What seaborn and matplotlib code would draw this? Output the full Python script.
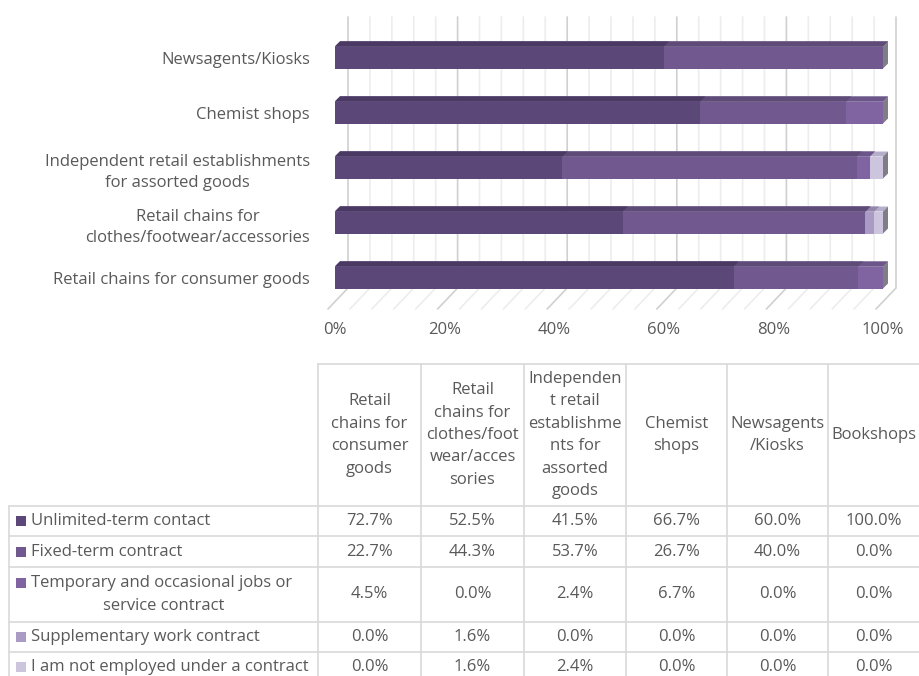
import numpy as np
import pandas as pd
import seaborn as sns
import matplotlib.pyplot as plt
from matplotlib.patches import Polygon, Rectangle

shops = ["Retail chains for consumer goods",
         "Retail chains for\nclothes/footwear/accessories",
         "Independent retail establishments\nfor assorted goods",
         "Chemist shops",
         "Newsagents/Kiosks",
         "Bookshops"]
table_headers = ["Retail\nchains for\nconsumer\ngoods",
                 "Retail\nchains for\nclothes/foot\nwear/acces\nsories",
                 "Independen\nt retail\nestablishme\nnts for\nassorted\ngoods",
                 "Chemist\nshops",
                 "Newsagents\n/Kiosks",
                 "Bookshops"]
row_labels = ["Unlimited-term contact",
              "Fixed-term contract",
              "Temporary and occasional jobs or\nservice contract",
              "Supplementary work contract",
              "I am not employed under a contract"]
unlimited = [72.7, 52.5, 41.5, 66.7, 60.0, 100.0]
fixed = [22.7, 44.3, 53.7, 26.7, 40.0, 0.0]
temporary = [4.5, 0.0, 2.4, 6.7, 0.0, 0.0]
supplementary = [0.0, 1.6, 0.0, 0.0, 0.0, 0.0]
not_employed = [0.0, 1.6, 2.4, 0.0, 0.0, 0.0]
x_ticks = [0, 20, 40, 60, 80, 100]

series = [unlimited, fixed, temporary, supplementary, not_employed]
front_colors = ["#5b4778", "#71598f", "#8064a2", "#a99bc3", "#cdc5de"]
top_colors = ["#4a3a63", "#5e4b78", "#6c5689", "#9487ad", "#b7aecb"]
end_color = "#7f7d87"
txt = "#595959"
line_c = "#d9d9d9"
fs = 12

sns.set_theme(style="white")
plt.rcParams['font.family'] = ['Open Sans', 'DejaVu Sans']

W, H = 920, 676
fig = plt.figure(figsize=(W / 100, H / 100), dpi=100)


def fbox(l, t, r, b):
    return [l / W, 1 - b / H, (r - l) / W, (b - t) / H]


ax = fig.add_axes(fbox(335, 10, 883, 312))

# 100% stacked bars: draw cumulative shares, longest first
bar_shops = shops[:5]
order = bar_shops[::-1]
vals = np.array(series)[:, :5]
pct = np.cumsum(vals, axis=0) / vals.sum(axis=0) * 100
df = pd.DataFrame(pct.T, columns=row_labels)
df["shop"] = bar_shops

for i in reversed(range(len(series))):
    sns.barplot(data=df, x=row_labels[i], y="shop", order=order,
                color=front_colors[i], width=0.4, saturation=1,
                errorbar=None, orient="h", ax=ax, zorder=3,
                edgecolor="none", linewidth=0)

ylim_top, ylim_bot = -0.864, 4.627
ax.set_xlim(0, 100)
ax.set_ylim(ylim_bot, ylim_top)

sx = ax.bbox.width / 100
sy = ax.bbox.height / (ylim_bot - ylim_top)
dx, dy = 5 / sx, 5 / sy


def py2y(py):
    return ylim_top + (py - 10) / sy


# fake 3d: top faces and end caps
half = 0.2
for i in reversed(range(len(series))):
    for j, shop in enumerate(order):
        c = pct[i, bar_shops.index(shop)]
        yt = j - half
        ax.add_patch(Polygon([(0, yt), (c, yt), (c + dx, yt - dy), (dx, yt - dy)],
                             closed=True, facecolor=top_colors[i], edgecolor="none",
                             zorder=4, clip_on=False))
for j, shop in enumerate(order):
    yt, yb = j - half, j + half
    ax.add_patch(Polygon([(100, yt), (100 + dx, yt - dy), (100 + dx, yb - dy), (100, yb)],
                         closed=True, facecolor=end_color, edgecolor="none",
                         zorder=4, clip_on=False))

# back wall + floor grid
back = 13 / sx
front = 7 / sx
for g in range(0, 101, 4):
    col = "#d0d0d0" if g % 20 == 0 else "#ededed"
    ax.plot([g + back, g + back, g - front],
            [py2y(17), py2y(288), py2y(309)],
            color=col, lw=1.2, zorder=1, clip_on=False)

for s in ax.spines.values():
    s.set_visible(False)
ax.set_xlabel("")
ax.set_ylabel("")
ax.set_xticks(x_ticks)
ax.set_xticklabels([f"{t}%" for t in x_ticks])
ax.tick_params(axis="x", length=0, pad=7.5, labelsize=fs, labelcolor=txt)
ax.tick_params(axis="y", length=0, pad=18, labelsize=fs, labelcolor=txt)
for lbl in ax.get_yticklabels():
    lbl.set_multialignment("center")
    lbl.set_linespacing(1.45)
ax.grid(False)

# data table
tab = fig.add_axes([0, 0, 1, 1])
tab.set_xlim(0, W)
tab.set_ylim(H, 0)
tab.axis("off")

col_edges = [9, 318, 421, 524, 626, 727, 828, 920]
head_top, head_bot = 364, 506
row_edges = [506, 536, 567, 622, 652, 682]

tab.plot([col_edges[1], col_edges[-1]], [head_top, head_top], color=line_c, lw=1.2)
for x in col_edges[1:-1]:
    tab.plot([x, x], [head_top, row_edges[-1]], color=line_c, lw=1.2)
tab.plot([col_edges[0], col_edges[0]], [head_bot, row_edges[-1]], color=line_c, lw=1.2)
for y in row_edges[:-1]:
    tab.plot([col_edges[0], col_edges[-1]], [y, y], color=line_c, lw=1.2)

for k, head in enumerate(table_headers):
    cx = (col_edges[k + 1] + col_edges[k + 2]) / 2
    tab.text(cx, 435, head, ha="center", va="center",
             fontsize=fs, color=txt, linespacing=1.54)

line_h = 23
first_cx = (col_edges[0] + col_edges[1]) / 2
for r, lab in enumerate(row_labels):
    cy = (row_edges[r] + row_edges[r + 1]) / 2
    parts = lab.split("\n")
    y0 = cy - (len(parts) - 1) * line_h / 2
    tab.add_patch(Rectangle((16, y0 - 5), 10, 10, facecolor=front_colors[r],
                            edgecolor="none"))
    tab.text(31, y0, parts[0], ha="left", va="center", fontsize=fs, color=txt)
    for p, extra in enumerate(parts[1:], start=1):
        tab.text(first_cx, y0 + p * line_h, extra, ha="center", va="center",
                 fontsize=fs, color=txt)
    for k in range(len(shops)):
        cx = (col_edges[k + 1] + col_edges[k + 2]) / 2
        tab.text(cx, cy, f"{series[r][k]:.1f}%", ha="center", va="center",
                 fontsize=fs, color=txt)

fig.savefig("out.png", dpi=100)
